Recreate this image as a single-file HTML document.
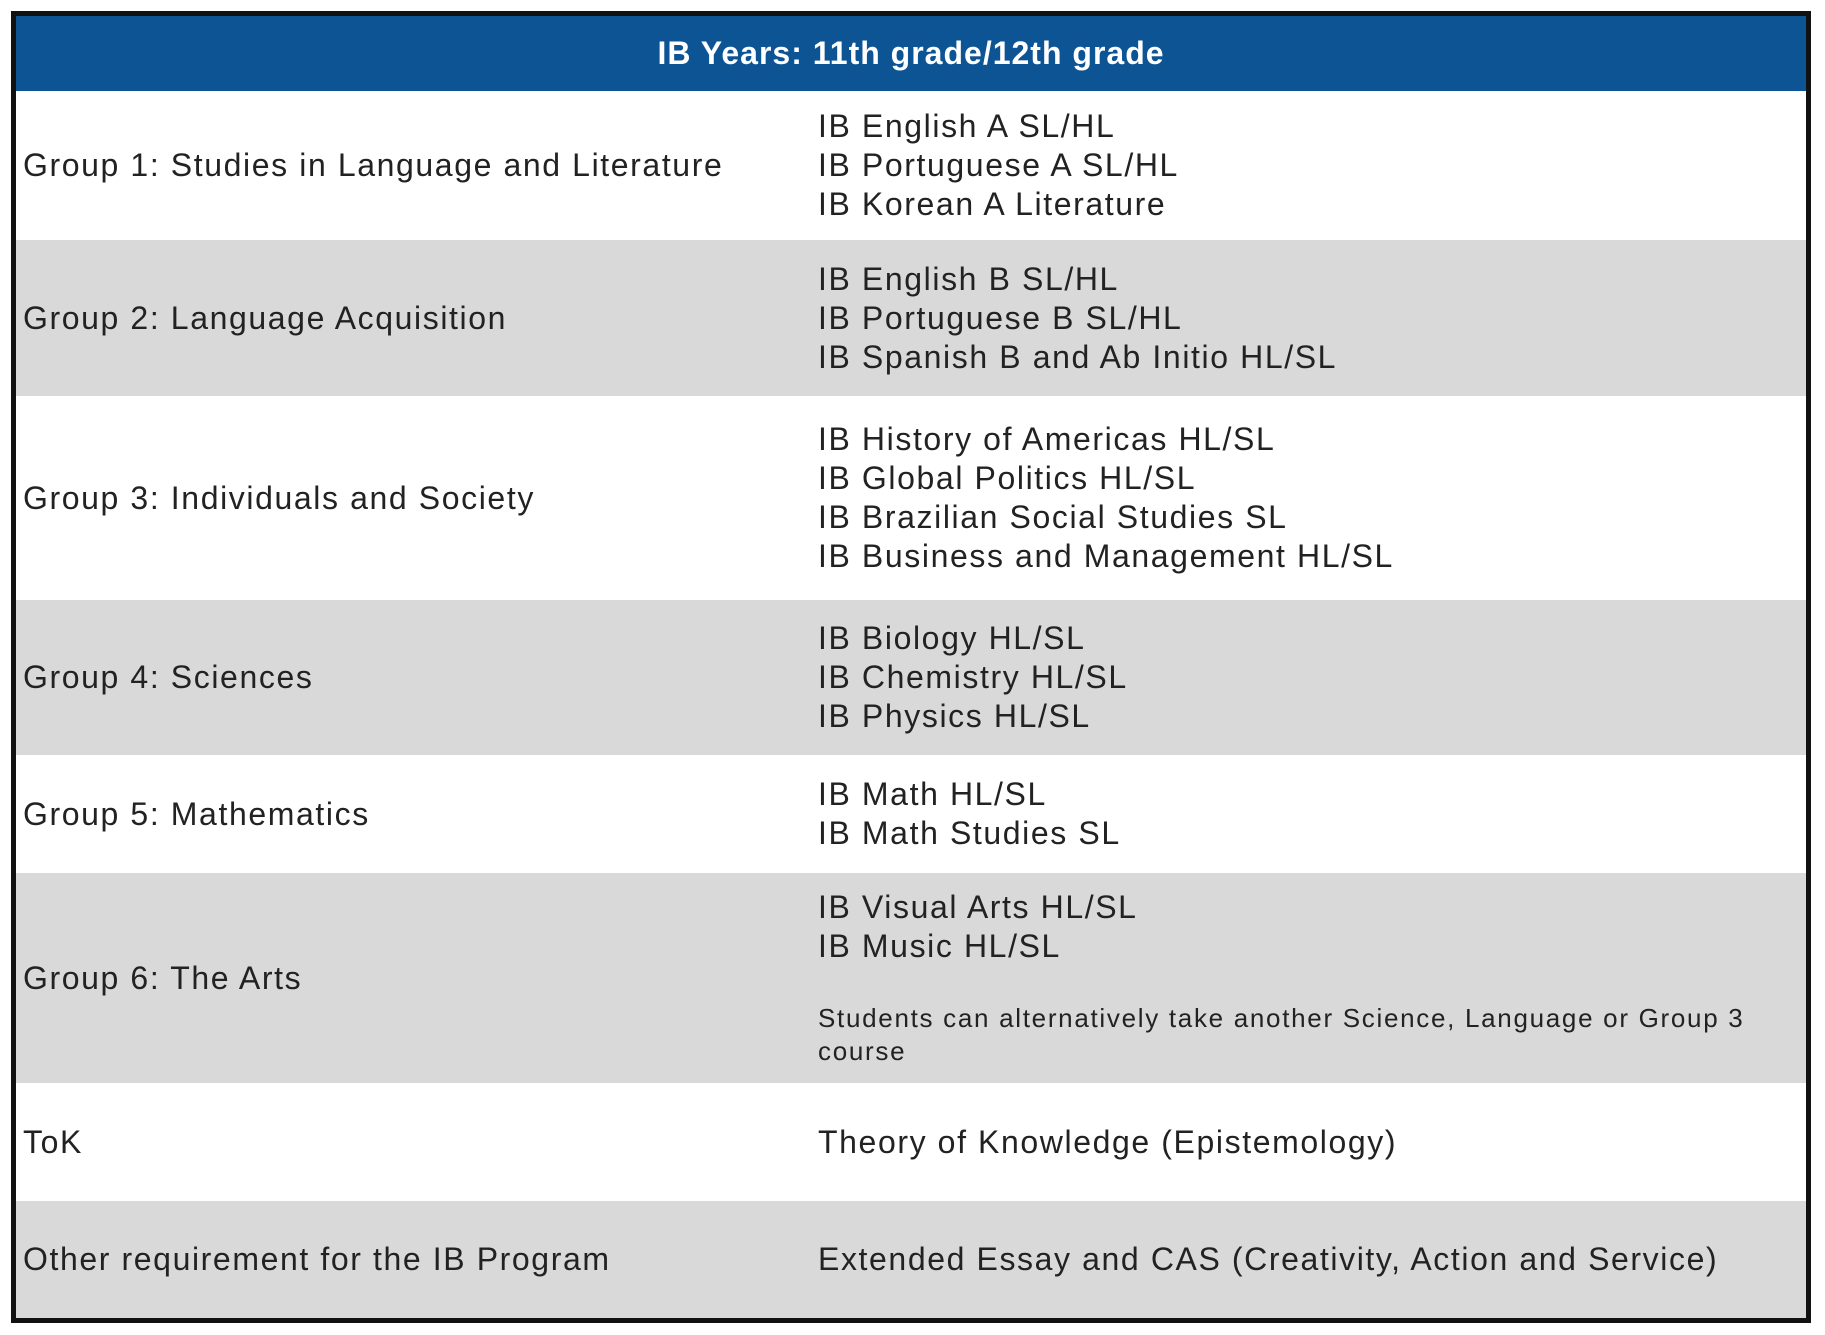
<!DOCTYPE html>
<html><head><meta charset="utf-8"><style>
html,body{margin:0;padding:0;background:#fff;}
body{width:1825px;height:1335px;position:relative;overflow:hidden;font-family:"Liberation Sans",sans-serif;color:#222;}
#tbl{position:absolute;left:11px;top:11px;width:1790px;height:1302px;border:5px solid #111;background:#fff;}
.row{position:absolute;left:0;width:1790px;display:flex;align-items:center;}
.hdr{top:0;height:75px;background:#0d5494;color:#fff;font-weight:bold;font-size:32px;justify-content:center;letter-spacing:1px;}
.grey{background:#d9d9d9;}
.c1{position:absolute;left:7px;top:0;bottom:0;display:flex;align-items:center;font-size:32px;letter-spacing:1.6px;white-space:nowrap;}
.c2{position:absolute;left:802px;top:0;bottom:0;display:flex;flex-direction:column;justify-content:center;font-size:32px;letter-spacing:1.6px;line-height:39px;white-space:nowrap;}
.note{font-size:26px;line-height:33px;margin-top:36px;letter-spacing:1.7px;width:960px;white-space:normal;}
</style></head><body>
<div id="tbl">
<div class="row hdr">IB Years: 11th grade/12th grade</div>
<div class="row" style="top:75px;height:149px"><div class="c1">Group 1: Studies in Language and Literature</div><div class="c2"><div>IB English A SL/HL</div><div>IB Portuguese A SL/HL</div><div>IB Korean A Literature</div></div></div>
<div class="row grey" style="top:224px;height:156px"><div class="c1">Group 2: Language Acquisition</div><div class="c2"><div>IB English B SL/HL</div><div>IB Portuguese B SL/HL</div><div>IB Spanish B and Ab Initio HL/SL</div></div></div>
<div class="row" style="top:380px;height:204px"><div class="c1">Group 3: Individuals and Society</div><div class="c2"><div>IB History of Americas HL/SL</div><div>IB Global Politics HL/SL</div><div>IB Brazilian Social Studies SL</div><div>IB Business and Management HL/SL</div></div></div>
<div class="row grey" style="top:584px;height:155px"><div class="c1">Group 4: Sciences</div><div class="c2"><div>IB Biology HL/SL</div><div>IB Chemistry HL/SL</div><div>IB Physics HL/SL</div></div></div>
<div class="row" style="top:739px;height:118px"><div class="c1">Group 5: Mathematics</div><div class="c2"><div>IB Math HL/SL</div><div>IB Math Studies SL</div></div></div>
<div class="row grey" style="top:857px;height:210px"><div class="c1">Group 6: The Arts</div><div class="c2"><div>IB Visual Arts HL/SL</div><div>IB Music HL/SL</div><div class="note">Students can alternatively take another Science, Language or Group 3 course</div></div></div>
<div class="row" style="top:1067px;height:118px"><div class="c1">ToK</div><div class="c2"><div>Theory of Knowledge (Epistemology)</div></div></div>
<div class="row grey" style="top:1185px;height:117px"><div class="c1">Other requirement for the IB Program</div><div class="c2"><div>Extended Essay and CAS (Creativity, Action and Service)</div></div></div>
</div>
</body></html>
